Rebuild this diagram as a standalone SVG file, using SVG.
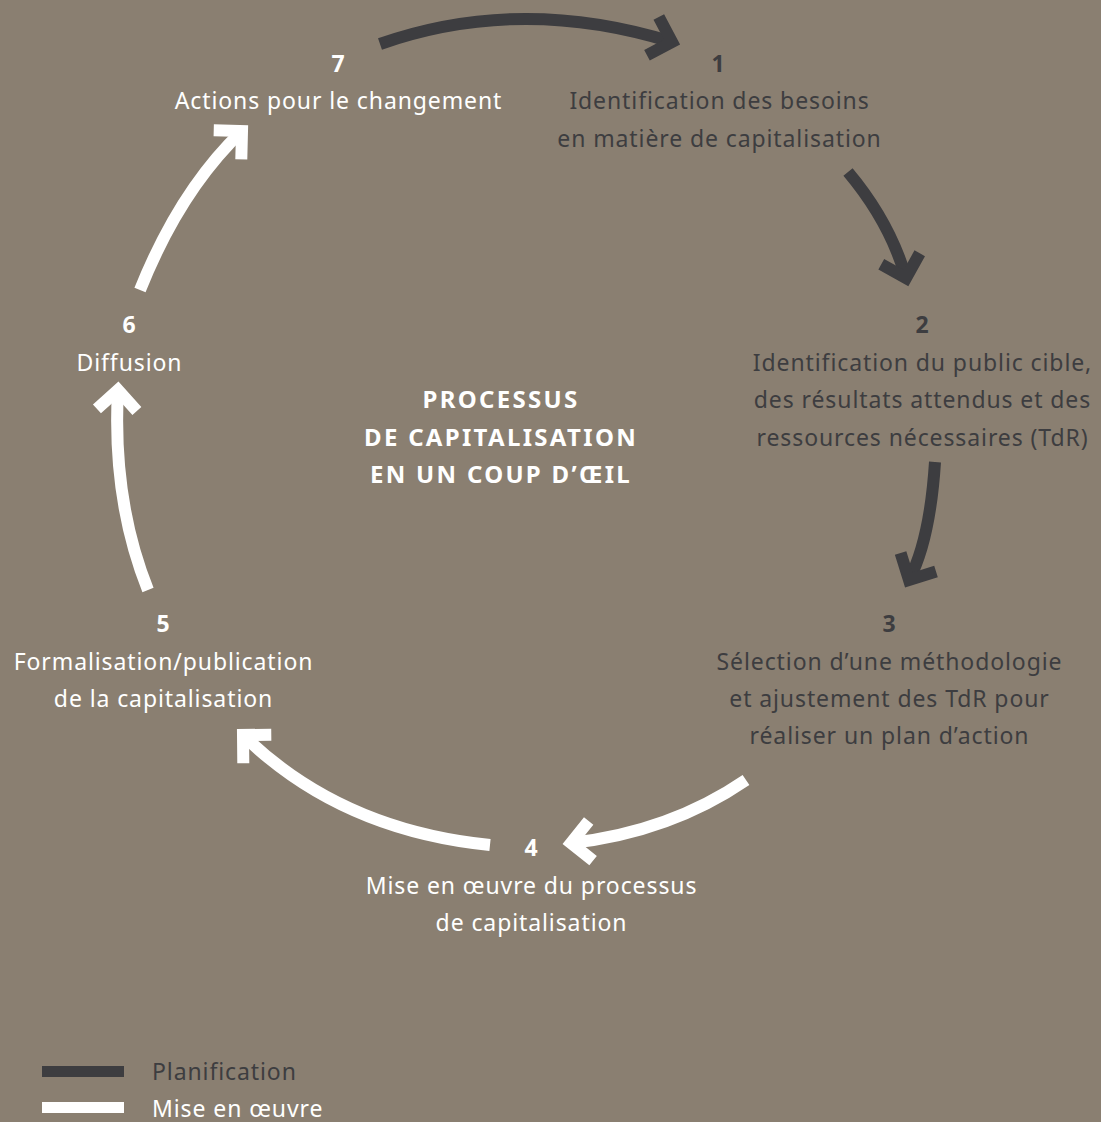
<svg xmlns="http://www.w3.org/2000/svg" width="1101" height="1122" viewBox="0 0 1101 1122">
<style>
.t{font-family:"Noto Sans","Open Sans",sans-serif;font-size:23px;text-anchor:middle;letter-spacing:0.9px}
.n{font-weight:bold;letter-spacing:0}
.h{font-family:"Noto Sans","Open Sans",sans-serif;font-size:24px;font-weight:bold;text-anchor:middle;letter-spacing:2.3px;fill:#ffffff}
.d{fill:#3d3d40}
.w{fill:#ffffff}
.cd{fill:none;stroke:#3d3d40;stroke-width:12}
.cw{fill:none;stroke:#ffffff;stroke-width:12}
.lg{font-family:"Noto Sans","Open Sans",sans-serif;font-size:23px;letter-spacing:0.9px}
</style>
<defs>
<marker id="ad" markerUnits="userSpaceOnUse" orient="auto" markerWidth="60" markerHeight="60" refX="0" refY="0" viewBox="-30 -30 60 60" overflow="visible">
<path d="M-20,-20 L0,0 L-20,20" fill="none" stroke="#3d3d40" stroke-width="12" stroke-linejoin="miter"/>
</marker>
<marker id="aw" markerUnits="userSpaceOnUse" orient="auto" markerWidth="60" markerHeight="60" refX="0" refY="0" viewBox="-30 -30 60 60" overflow="visible">
<path d="M-20,-20 L0,0 L-20,20" fill="none" stroke="#ffffff" stroke-width="12" stroke-linejoin="miter"/>
</marker>
</defs>
<rect width="1101" height="1122" fill="#8a7f71"/>
<g id="connectors">
<path class="cd" d="M380,44 Q520,-5 672,42" marker-end="url(#ad)"/>
<path class="cd" d="M848,172 Q890,222 906,278" marker-end="url(#ad)"/>
<path class="cd" d="M935,462 Q930,540 909,580" marker-end="url(#ad)"/>
<path class="cw" d="M746,780 Q670,832 571,843" marker-end="url(#aw)"/>
<path class="cw" d="M490,845 Q340,830 243,735" marker-end="url(#aw)"/>
<path class="cw" d="M148,590 Q112,500 118,390" marker-end="url(#aw)"/>
<path class="cw" d="M140,290 Q180,190 242,131" marker-end="url(#aw)"/>
</g>
<g id="node7">
<text class="t n w" x="338" y="72">7</text>
<text class="t w" x="338.5" y="109">Actions pour le changement</text>
</g>
<g id="node1">
<text class="t n d" x="718" y="72">1</text>
<text class="t d" x="719.5" y="109">Identification des besoins</text>
<text class="t d" x="719.5" y="147">en matière de capitalisation</text>
</g>
<g id="node2">
<text class="t n d" x="922" y="333">2</text>
<text class="t d" x="922.5" y="371">Identification du public cible,</text>
<text class="t d" x="922.5" y="408">des résultats attendus et des</text>
<text class="t d" x="922.5" y="446">ressources nécessaires (TdR)</text>
</g>
<g id="node3">
<text class="t n d" x="889" y="632">3</text>
<text class="t d" x="889.5" y="670">Sélection d’une méthodologie</text>
<text class="t d" x="889.5" y="707">et ajustement des TdR pour</text>
<text class="t d" x="889.5" y="744">réaliser un plan d’action</text>
</g>
<g id="node4">
<text class="t n w" x="531" y="856">4</text>
<text class="t w" x="531.5" y="894">Mise en œuvre du processus</text>
<text class="t w" x="531.5" y="931">de capitalisation</text>
</g>
<g id="node5">
<text class="t n w" x="163" y="632">5</text>
<text class="t w" x="163.5" y="670">Formalisation/publication</text>
<text class="t w" x="163.5" y="707">de la capitalisation</text>
</g>
<g id="node6">
<text class="t n w" x="129" y="333">6</text>
<text class="t w" x="129.5" y="371">Diffusion</text>
</g>
<g id="title">
<text class="h" x="501" y="408">PROCESSUS</text>
<text class="h" x="501" y="446">DE CAPITALISATION</text>
<text class="h" x="501" y="483">EN UN COUP D’ŒIL</text>
</g>
<g id="legend">
<rect x="42" y="1066" width="82" height="11" fill="#3d3d40"/>
<rect x="42" y="1102" width="82" height="11" fill="#ffffff"/>
<text class="lg d" x="152" y="1080">Planification</text>
<text class="lg w" x="152" y="1117">Mise en œuvre</text>
</g>
</svg>
